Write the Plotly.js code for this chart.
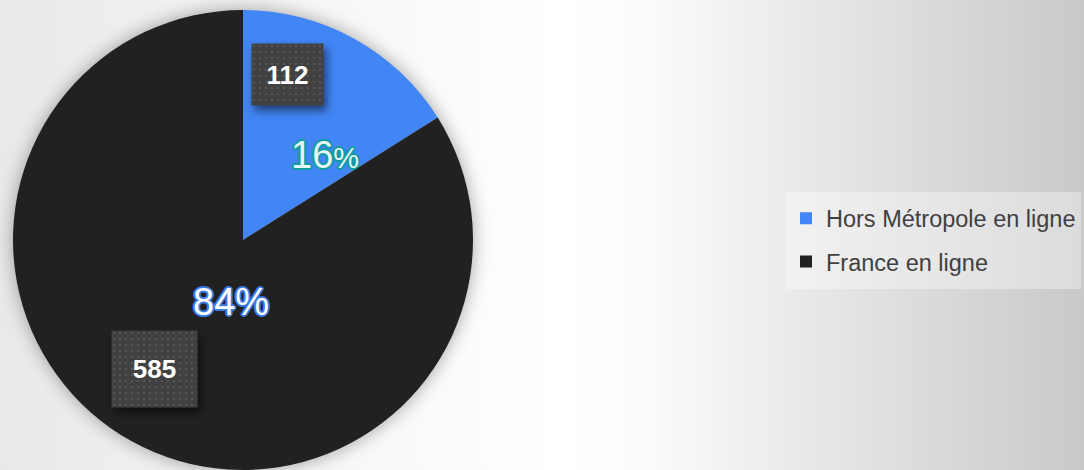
<!DOCTYPE html>
<html>
<head>
<meta charset="utf-8">
<script src="https://cdn.plot.ly/plotly-3.0.1.min.js"></script>
<style>
  html, body { margin:0; padding:0; }
  #chart {
    width:1084px; height:470px;
    background: linear-gradient(to right, #e9e9e9 0%, #f7f7f7 30%, #ffffff 52%, #fbfbfb 60%, #e4e4e4 78%, #c9c9c9 100%);
  }
  .pielayer { filter: drop-shadow(0 0 9px rgba(0,0,0,0.35)); }
  g.annotation[data-index="0"] rect.bg,
  g.annotation[data-index="1"] rect.bg {
    fill: url(#dots) !important;
    filter: drop-shadow(3px 5px 4px rgba(0,0,0,0.55));
  }
  .legend .legendtext { transform: translateY(-3px); }
</style>
</head>
<body>
<svg width="0" height="0" style="position:absolute">
  <defs>
    <pattern id="dots" width="6" height="6" patternUnits="userSpaceOnUse">
      <rect width="6" height="6" fill="#414141"></rect>
      <rect x="2" y="2" width="2" height="2" fill="#565656"></rect>
    </pattern>
  </defs>
</svg>
<div id="chart"></div>
<script>
const categories = ["Hors Métropole en ligne", "France en ligne"];
const values = [112, 585];
const sliceColors = ["#4285f4", "#212121"];

const W = 1084, H = 470, MT = 10;
const px = x => x / W;
const py = y => (H - y) / (H - MT);

const total = values.reduce((a, b) => a + b, 0);
const pct = values.map(v => Math.round(v / total * 100));

const outline = c => [
  "2px 0 0 " + c, "-2px 0 0 " + c, "0 2px 0 " + c, "0 -2px 0 " + c,
  "1.4px 1.4px 0 " + c, "-1.4px -1.4px 0 " + c, "1.4px -1.4px 0 " + c, "-1.4px 1.4px 0 " + c
].join(", ");

const trace = {
  type: "pie",
  labels: categories.map(c => '<span style="font-size:23.5px">' + c + '</span>'),
  values: values,
  sort: false,
  direction: "clockwise",
  rotation: 0,
  marker: { colors: sliceColors, line: { width: 0 } },
  textinfo: "none",
  hoverinfo: "none",
  domain: { x: [px(12), px(474)], y: [0, 1] }
};

const annotations = [
  { x: px(287.5), y: py(74.5), text: "<b>" + values[0] + "</b>",
    width: 71, height: 61, bgcolor: "#424242", borderpad: 0,
    font: { family: "Liberation Sans, Arial, sans-serif", size: 26, color: "#ffffff" } },
  { x: px(154.5), y: py(369), text: "<b>" + values[1] + "</b>",
    width: 85, height: 76, bgcolor: "#424242", borderpad: 0,
    font: { family: "Liberation Sans, Arial, sans-serif", size: 26, color: "#ffffff" } },
  { x: px(325), y: py(155), text: pct[0] + '<span style="font-size:29px">%</span>',
    font: { family: "Liberation Sans, Arial, sans-serif", size: 38, color: "#e6f6f6",
            shadow: outline("#0f9d9d") } },
  { x: px(231), y: py(302), text: pct[1] + "%",
    font: { family: "Liberation Sans, Arial, sans-serif", size: 38, color: "#ffffff",
            shadow: outline("#3b7be6") } }
].map(a => Object.assign({ xref: "paper", yref: "paper", xanchor: "center", yanchor: "middle", showarrow: false }, a));

const layout = {
  width: W, height: H,
  margin: { l: 0, r: 0, t: MT, b: 0, autoexpand: false },
  paper_bgcolor: "rgba(0,0,0,0)",
  plot_bgcolor: "rgba(0,0,0,0)",
  showlegend: true,
  legend: {
    x: px(786), y: py(240), xanchor: "left", yanchor: "middle",
    bgcolor: "rgba(255,255,255,0.35)",
    font: { family: "Liberation Sans, Arial, sans-serif", size: 31, color: "#404040" }
  },
  annotations: annotations
};

Plotly.newPlot("chart", [trace], layout, { displayModeBar: false, staticPlot: true });
</script>
</body>
</html>
